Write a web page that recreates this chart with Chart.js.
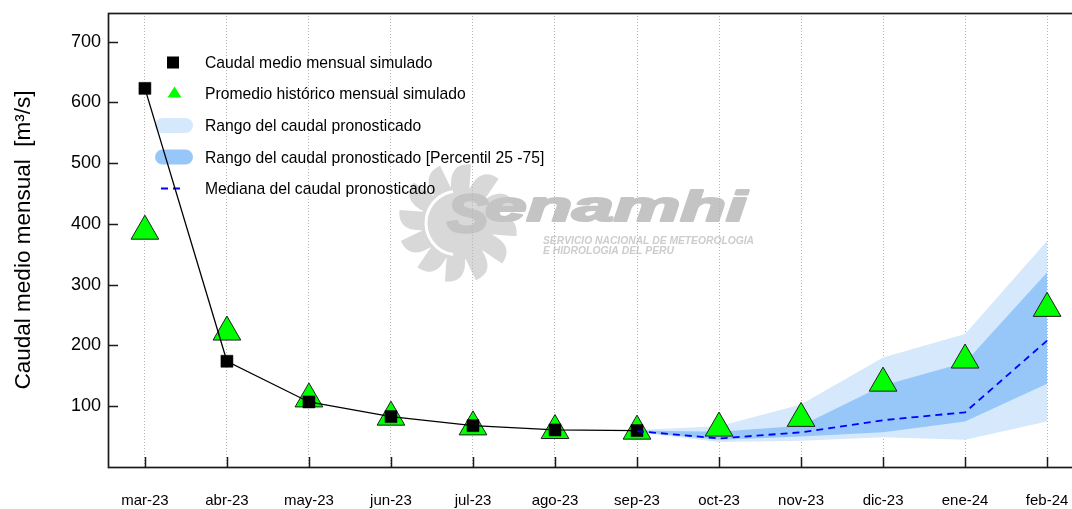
<!DOCTYPE html>
<html><head><meta charset="utf-8">
<script src="https://cdn.jsdelivr.net/npm/chart.js@4.4.0/dist/chart.umd.min.js"></script>
<style>
html,body{margin:0;padding:0;background:#fff;overflow:hidden;width:1072px;height:509px}
#wrap{position:absolute;left:0;top:0;width:1100px;height:509px}
</style>
</head><body><div id="wrap"><canvas id="c" width="1100" height="509"></canvas></div>
<script>
// ---- data ----
const categories = ['mar-23','abr-23','may-23','jun-23','jul-23','ago-23','sep-23','oct-23','nov-23','dic-23','ene-24','feb-24'];
const simulated  = [623, 174, 107, 83, 68, 61, 60];
const historical = [388, 222, 112, 82, 66, 60, 59, 64, 80, 138, 176, 261];
const forecastStart = 6; // sep-23
const rangeMax = [61, 67, 103, 180, 219, 372];
const p75      = [60, 58, 68, 134, 172, 320];
const median   = [59, 47, 57, 77, 90, 208];
const p25      = [58, 45, 50, 57, 75, 137];
const rangeMin = [57, 41, 43, 49, 45, 75];
const yTicks = [100, 200, 300, 400, 500, 600, 700];

const LIGHT = '#d5e8fc', DARK = '#97c7f8';
const FONT = 'Liberation Sans';
const pts = (arr, start = 0) => arr.map((v, i) => ({x: start + i, y: v}));

// ---- plugins ----
const watermark = {
  id: 'watermark',
  beforeDraw(chart) {
    const ctx = chart.ctx;
    ctx.save();
    const cx = 458, cy = 223, R = 60, r = 35, n = 12;
    ctx.fillStyle = '#d8d8d8';
    ctx.beginPath();
    for (let k = 0; k < n; k++) {
      const step = 2 * Math.PI / n, a0 = k * step - 0.2;
      const p = (rad, a) => [cx + rad * Math.cos(a), cy + rad * Math.sin(a)];
      const s = p(r, a0), tip = p(R, a0 + step * 0.8), e = p(r, a0 + step);
      const c1 = p(R * 1.02, a0 + step * 0.1), c2 = p(r * 1.3, a0 + step * 0.9);
      if (k === 0) ctx.moveTo(s[0], s[1]); else ctx.lineTo(s[0], s[1]);
      ctx.quadraticCurveTo(c1[0], c1[1], tip[0], tip[1]);
      ctx.quadraticCurveTo(c2[0], c2[1], e[0], e[1]);
    }
    ctx.closePath(); ctx.fill();
    ctx.beginPath(); ctx.arc(cx, cy, r + 2, 0, 2 * Math.PI); ctx.fill();
    ctx.strokeStyle = '#ffffff'; ctx.lineWidth = 3;
    ctx.beginPath(); ctx.arc(cx, cy, r - 3, Math.PI * 0.55, Math.PI * 1.45); ctx.stroke();
    // logo text
    ctx.textBaseline = 'alphabetic';
    ctx.fillStyle = '#c4c4c4'; ctx.strokeStyle = '#c4c4c4'; ctx.lineJoin = 'round';
    ctx.save();
    ctx.translate(447, 232); ctx.scale(1.15, 1);
    ctx.font = 'italic bold 54px "' + FONT + '"';
    ctx.lineWidth = 2.5; ctx.strokeText('S', 0, 0); ctx.fillText('S', 0, 0);
    ctx.restore();
    ctx.save();
    ctx.translate(485, 221); ctx.scale(1.78, 1);
    ctx.font = 'italic bold 42px "' + FONT + '"';
    ctx.lineWidth = 2.2; ctx.strokeText('enamhi', 0, 0); ctx.fillText('enamhi', 0, 0);
    ctx.restore();
    ctx.fillStyle = '#cdcdcd';
    ctx.font = 'italic bold 10.5px "' + FONT + '"';
    ctx.fillText('SERVICIO NACIONAL DE METEOROLOGIA', 543, 244, 211);
    ctx.fillText('E HIDROLOGIA DEL PERU', 543, 254, 131);
    ctx.restore();
  }
};

const legendPlugin = {
  id: 'customLegend',
  beforeDatasetsDraw(chart) {
    const ctx = chart.ctx;
    const ds = chart.data.datasets;
    const items = [
      {type: 'square', text: ds[1].label},
      {type: 'triangle', text: ds[2].label},
      {type: 'band', color: LIGHT, text: ds[5].label},
      {type: 'band', color: DARK, text: ds[3].label},
      {type: 'dash', text: ds[0].label}
    ];
    ctx.save();
    items.forEach((it, i) => {
      const sy = 62.5 + 31.5 * i, ty = 63.5 + 31.6 * i;
      if (it.type === 'square') {
        ctx.fillStyle = '#000'; ctx.fillRect(167, sy - 6, 12, 12);
      } else if (it.type === 'triangle') {
        ctx.fillStyle = '#00ff00';
        ctx.beginPath(); ctx.moveTo(174.5, sy - 7.5); ctx.lineTo(181.5, sy + 3.5); ctx.lineTo(167.5, sy + 3.5); ctx.closePath(); ctx.fill();
      } else if (it.type === 'band') {
        ctx.fillStyle = it.color;
        ctx.beginPath();
        if (ctx.roundRect) ctx.roundRect(155, sy - 7.5, 38, 15, 7.5); else ctx.rect(155, sy - 7.5, 38, 15);
        ctx.fill();
      } else if (it.type === 'dash') {
        ctx.strokeStyle = '#0000ff'; ctx.lineWidth = 1.8; ctx.setLineDash([7, 5]);
        ctx.beginPath(); ctx.moveTo(161, sy); ctx.lineTo(181, sy); ctx.stroke(); ctx.setLineDash([]);
      }
      ctx.fillStyle = '#000';
      ctx.font = '15.7px "' + FONT + '"';
      ctx.textBaseline = 'middle'; ctx.textAlign = 'left';
      ctx.fillText(it.text, 205, ty);
    });
    ctx.restore();
  }
};

const framePlugin = {
  id: 'frame',
  afterDraw(chart) {
    const {ctx, chartArea: a, scales: {x, y}} = chart;
    ctx.save();
    ctx.strokeStyle = '#1a1a1a'; ctx.lineWidth = 1.7;
    ctx.strokeRect(a.left + 0.5, a.top + 0.5, a.right - a.left, a.bottom - a.top);
    ctx.lineWidth = 1.5;
    ctx.beginPath();
    x.ticks.forEach(t => { const px = Math.round(x.getPixelForValue(t.value)) + 0.5; ctx.moveTo(px, a.bottom); ctx.lineTo(px, a.bottom - 10); });
    y.ticks.forEach(t => { const py = Math.round(y.getPixelForValue(t.value)) + 0.5; ctx.moveTo(a.left, py); ctx.lineTo(a.left + 10, py); });
    ctx.stroke();
    ctx.restore();
  }
};

// ---- chart ----
new Chart(document.getElementById('c').getContext('2d'), {
  type: 'line',
  data: {
    datasets: [
      {label: 'Mediana del caudal pronosticado', data: pts(median, forecastStart), borderColor: '#0000ff', borderWidth: 1.8, borderDash: [7, 5], pointRadius: 0, fill: false, tension: 0, order: 0},
      {label: 'Caudal medio mensual simulado', data: pts(simulated), borderColor: '#000', borderWidth: 1.3, pointStyle: 'rect', pointRadius: 8.5, pointBackgroundColor: '#000', pointBorderColor: '#000', pointBorderWidth: 0.5, fill: false, tension: 0, order: 1},
      {label: 'Promedio histórico mensual simulado', data: pts(historical), showLine: false, pointStyle: 'triangle', pointRadius: 16, pointBackgroundColor: '#00ff00', pointBorderColor: '#1f1f1f', pointBorderWidth: 1, fill: false, order: 2},
      {label: 'Rango del caudal pronosticado [Percentil 25 -75]', data: pts(p75, forecastStart), borderColor: 'transparent', borderWidth: 0, pointRadius: 0, fill: 4, backgroundColor: DARK, tension: 0, order: 3},
      {label: 'p25', data: pts(p25, forecastStart), borderColor: 'transparent', borderWidth: 0, pointRadius: 0, fill: false, tension: 0, order: 4},
      {label: 'Rango del caudal pronosticado', data: pts(rangeMax, forecastStart), borderColor: 'transparent', borderWidth: 0, pointRadius: 0, fill: 6, backgroundColor: LIGHT, tension: 0, order: 5},
      {label: 'min', data: pts(rangeMin, forecastStart), borderColor: 'transparent', borderWidth: 0, pointRadius: 0, fill: false, tension: 0, order: 6}
    ]
  },
  options: {
    responsive: false,
    animation: false,
    events: [],
    layout: {autoPadding: false, padding: {top: 13, right: 16, left: 0, bottom: 0}},
    plugins: {legend: {display: false}, tooltip: {enabled: false}},
    scales: {
      x: {
        type: 'linear', min: -0.45, max: 11.45,
        afterBuildTicks: s => { s.ticks = categories.map((c, i) => ({value: i})); },
        afterFit: s => { s.height = 42; s.paddingLeft = 0; s.paddingRight = 0; },
        ticks: {callback: v => categories[v], autoSkip: false, maxRotation: 0, padding: 25, color: '#000', font: {family: FONT, size: 15}},
        grid: {color: '#b5b5b5', lineWidth: 1, drawTicks: false},
        border: {display: false, dash: [1, 2]}
      },
      y: {
        min: 0, max: 747,
        afterBuildTicks: s => { s.ticks = yTicks.map(v => ({value: v})); },
        afterFit: s => { s.width = 108; s.paddingTop = 0; s.paddingBottom = 0; },
        ticks: {padding: 7, color: '#000', font: {family: FONT, size: 18}},
        grid: {display: false, drawTicks: false},
        border: {display: false},
        title: {display: true, text: 'Caudal medio mensual  [m³/s]', color: '#000', font: {family: FONT, size: 22.5}, padding: {top: 10, bottom: 0}}
      }
    }
  },
  plugins: [watermark, legendPlugin, framePlugin]
});
</script>
</body></html>
